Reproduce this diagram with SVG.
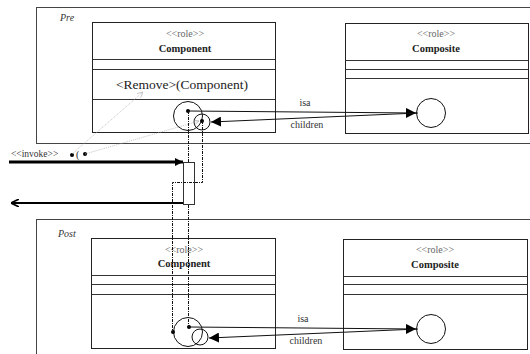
<svg xmlns="http://www.w3.org/2000/svg" width="530" height="354" viewBox="0 0 530 354">
<style>
.frame{fill:#fff;stroke:#444;stroke-width:1}
.box{fill:#fff;stroke:#222;stroke-width:1}
.sep{stroke:#333;stroke-width:1}
.role{font-family:"Liberation Serif",serif;font-size:10px;fill:#666;text-anchor:middle}
.name{font-family:"Liberation Serif",serif;font-size:10.5px;font-weight:bold;fill:#222;text-anchor:middle}
.lbl{font-family:"Liberation Serif",serif;font-size:10px;fill:#333;text-anchor:middle}
.ttl{font-family:"Liberation Serif",serif;font-size:10px;font-style:italic;fill:#333}
.circ{fill:none;stroke:#111;stroke-width:1}
.dot{fill:#000}
.dd{fill:none;stroke:#111;stroke-width:1;stroke-dasharray:3 1 1 1}
.gd{fill:none;stroke:#aaa;stroke-width:0.7;stroke-dasharray:1 1}
.lnk{stroke:#111;stroke-width:1;fill:none}
</style>
<defs>
<marker id="fa" viewBox="0 0 10 10" refX="10" refY="5" markerWidth="10" markerHeight="10" markerUnits="userSpaceOnUse" orient="auto"><path d="M0,0 L10,5 L0,10 z" fill="#000"/></marker>
<marker id="fb" viewBox="0 0 10 10" refX="10" refY="5" markerWidth="10" markerHeight="8" markerUnits="userSpaceOnUse" orient="auto"><path d="M0,0 L10,5 L0,10 z" fill="#000"/></marker>
<marker id="oa" viewBox="0 0 10 10" refX="10" refY="5" markerWidth="8" markerHeight="8" markerUnits="userSpaceOnUse" orient="auto"><path d="M0,0 L10,5 L0,10" fill="none" stroke="#000" stroke-width="2"/></marker>
<marker id="ga" viewBox="0 0 10 10" refX="10" refY="5" markerWidth="6" markerHeight="6" markerUnits="userSpaceOnUse" orient="auto"><path d="M0,0 L10,5 L0,10" fill="none" stroke="#aaa" stroke-width="1"/></marker>
</defs>

<g id="pre-frame">
<rect class="frame" x="36.5" y="7.5" width="500" height="136"/>
<text class="ttl" x="60" y="21">Pre</text>
</g>

<g id="pre-component">
<rect class="box" x="92.5" y="22.5" width="183" height="110"/>
<line class="sep" x1="92.5" y1="59.5" x2="275.5" y2="59.5"/>
<line class="sep" x1="92.5" y1="69.5" x2="275.5" y2="69.5"/>
<line class="sep" x1="92.5" y1="99.5" x2="275.5" y2="99.5"/>
<text class="role" x="185" y="37">&lt;&lt;role&gt;&gt;</text>
<text class="name" x="185" y="52">Component</text>
<text x="182" y="89" font-family="Liberation Serif, serif" font-size="13.5" fill="#222" text-anchor="middle">&lt;Remove&gt;(Component)</text>
<circle class="circ" cx="188" cy="116" r="14.5"/>
<circle class="circ" cx="202" cy="122" r="8"/>
<circle class="dot" cx="188" cy="111" r="2"/>
<circle class="dot" cx="202" cy="121" r="2"/>
</g>

<g id="pre-composite">
<rect class="box" x="345.5" y="23.5" width="183" height="110"/>
<line class="sep" x1="345.5" y1="60.5" x2="528.5" y2="60.5"/>
<line class="sep" x1="345.5" y1="69.5" x2="528.5" y2="69.5"/>
<line class="sep" x1="345.5" y1="78.5" x2="528.5" y2="78.5"/>
<text class="role" x="436" y="37">&lt;&lt;role&gt;&gt;</text>
<text class="name" x="436" y="52">Composite</text>
<circle class="circ" cx="431" cy="113" r="14.5"/>
</g>

<g id="post-frame">
<rect class="frame" x="36.5" y="219.5" width="500" height="140"/>
<text class="ttl" x="58" y="237">Post</text>
</g>

<g id="post-component">
<rect class="box" x="91.5" y="238.5" width="184" height="110"/>
<line class="sep" x1="91.5" y1="275.5" x2="275.5" y2="275.5"/>
<line class="sep" x1="91.5" y1="284.5" x2="275.5" y2="284.5"/>
<line class="sep" x1="91.5" y1="294.5" x2="275.5" y2="294.5"/>
<text class="role" x="184" y="253">&lt;&lt;role&gt;&gt;</text>
<text class="name" x="184" y="267">Component</text>
<circle class="circ" cx="188" cy="332" r="14.5"/>
<circle class="circ" cx="200" cy="337" r="8"/>
<circle class="dot" cx="189" cy="327" r="2"/>
<circle class="dot" cx="173" cy="332" r="2"/>
</g>

<g id="post-composite">
<rect class="box" x="343.5" y="239.5" width="184" height="110"/>
<line class="sep" x1="343.5" y1="276.5" x2="527.5" y2="276.5"/>
<line class="sep" x1="343.5" y1="284.5" x2="527.5" y2="284.5"/>
<line class="sep" x1="343.5" y1="294.5" x2="527.5" y2="294.5"/>
<text class="role" x="435" y="253">&lt;&lt;role&gt;&gt;</text>
<text class="name" x="435" y="268">Composite</text>
<circle class="circ" cx="431" cy="329" r="14.5"/>
</g>

<g id="activation">
<rect x="183.5" y="162.5" width="11" height="42" fill="#fff" stroke="#333" stroke-width="1"/>
</g>

<g id="invoke">
<text x="11" y="157" font-family="Liberation Serif, serif" font-size="9.5" fill="#333">&lt;&lt;invoke&gt;&gt;</text>
<circle class="dot" cx="72" cy="155" r="2"/>
<text x="76" y="158" font-family="Liberation Serif, serif" font-size="10" fill="#222">(</text>
<circle class="dot" cx="85" cy="154" r="2"/>
</g>

<g id="connectors">
<line class="lnk" x1="188" y1="111" x2="416" y2="113" marker-end="url(#fa)"/>
<line class="lnk" x1="418" y1="113" x2="211" y2="122" marker-end="url(#fa)"/>
<text class="lbl" x="305" y="106">isa</text>
<text class="lbl" x="307" y="128">children</text>

<line class="lnk" x1="189" y1="327" x2="416" y2="329" marker-end="url(#fa)"/>
<line class="lnk" x1="418" y1="329" x2="209" y2="338" marker-end="url(#fa)"/>
<text class="lbl" x="303" y="322">isa</text>
<text class="lbl" x="306" y="344">children</text>

<line x1="9" y1="162" x2="183" y2="162" stroke="#000" stroke-width="3" marker-end="url(#fb)"/>
<line x1="183" y1="203" x2="11" y2="203" stroke="#000" stroke-width="2" marker-end="url(#oa)"/>

<line class="gd" x1="72" y1="154" x2="143" y2="92" marker-end="url(#ga)"/>
<line class="gd" x1="85" y1="154" x2="199" y2="121" marker-end="url(#ga)"/>

<polyline class="dd" points="188.5,111 188.5,162"/>
<polyline class="dd" points="188.5,205 188.5,327"/>
<polyline class="dd" points="202.5,121 202.5,182.5 172.5,182.5 172.5,332"/>
</g>
</svg>
